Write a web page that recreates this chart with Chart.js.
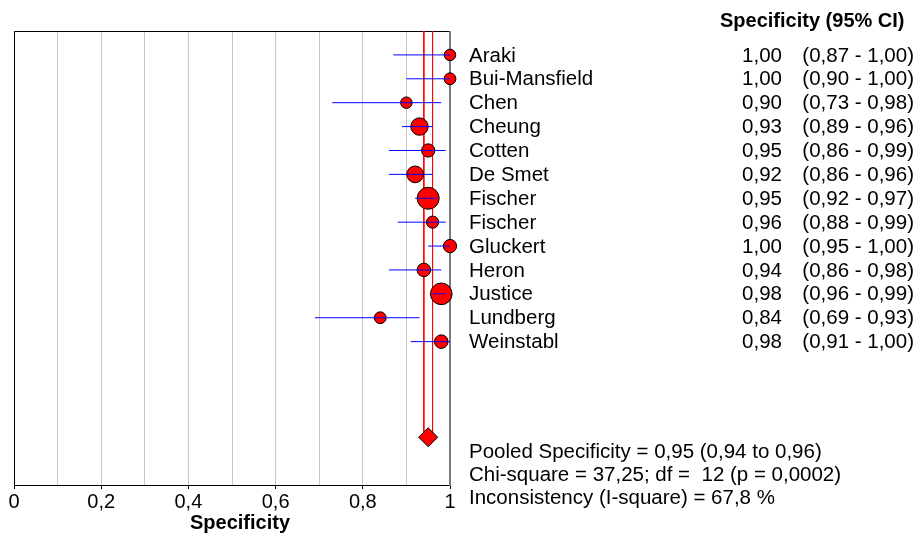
<!DOCTYPE html>
<html>
<head>
<meta charset="utf-8">
<script src="https://cdn.jsdelivr.net/npm/chart.js@4/dist/chart.umd.min.js"></script>
<style>
  html, body { margin: 0; padding: 0; background: #fff; }
  #wrap { width: 920px; height: 536px; position: relative; }
</style>
</head>
<body>
<div id="wrap"><canvas id="c" width="920" height="536"></canvas></div>
<script>
// ---- data ----
const studies = ['Araki','Bui-Mansfield','Chen','Cheung','Cotten','De Smet','Fischer','Fischer','Gluckert','Heron','Justice','Lundberg','Weinstabl'];
const specificity = [1.00, 1.00, 0.90, 0.93, 0.95, 0.92, 0.95, 0.96, 1.00, 0.94, 0.98, 0.84, 0.98];
const ciLow  = [0.87, 0.90, 0.73, 0.89, 0.86, 0.86, 0.92, 0.88, 0.95, 0.86, 0.96, 0.69, 0.91];
const ciHigh = [1.00, 1.00, 0.98, 0.96, 0.99, 0.96, 0.97, 0.99, 1.00, 0.98, 0.99, 0.93, 1.00];
const weights = [33, 35, 33, 76, 44, 70, 121, 37, 44, 46, 117, 35, 46];
const pooled = 0.95, pooledLow = 0.94, pooledHigh = 0.96;
const chiSquare = 37.25, df = 12, pValue = 0.0002, iSquare = 67.8;
const xTicks = [0, 0.2, 0.4, 0.6, 0.8, 1];
const xTitle = 'Specificity';
const header = 'Specificity (95% CI)';
const pooledRow = 17;

const fmt = (v, d) => v.toFixed(d).replace('.', ',');
const FONT = 'Arial, "Liberation Sans", sans-serif';

// ---- datasets ----
const rows = studies.map((_, i) => i + 1);
const ciSets = studies.map((_, i) => ({
  type: 'line',
  data: [{x: ciLow[i], y: rows[i]}, {x: ciHigh[i], y: rows[i]}],
  borderColor: '#0000ff', borderWidth: 1, pointRadius: 0, fill: false, order: 0, clip: false
}));
const pointSet = {
  type: 'scatter',
  data: studies.map((_, i) => ({x: specificity[i], y: rows[i]})),
  backgroundColor: '#ff0000', borderColor: '#000', borderWidth: 1,
  pointRadius: weights.map(w => Math.sqrt(w)), pointHoverRadius: weights.map(w => Math.sqrt(w)),
  order: 1, clip: false
};
const pooledLines = [pooledLow, pooledHigh].map(v => ({
  type: 'line',
  data: [{x: v, y: 0}, {x: v, y: pooledRow}],
  borderColor: '#ff0000', borderWidth: 1, pointRadius: 0, fill: false, order: 3, clip: false
}));
const diamond = {
  type: 'scatter',
  data: [{x: pooled, y: pooledRow}],
  pointStyle: 'rectRot', pointRadius: 9.5, pointHoverRadius: 9.5,
  backgroundColor: '#ff0000', borderColor: '#000', borderWidth: 1, order: 2, clip: false
};

// ---- plugins ----
const framePlugin = {
  id: 'frame',
  beforeDatasetsDraw(chart) {
    const {ctx, chartArea: a} = chart;
    ctx.save();
    ctx.strokeStyle = '#000'; ctx.lineWidth = 1;
    ctx.beginPath();
    ctx.moveTo(a.left + 0.5, a.bottom); ctx.lineTo(a.left + 0.5, a.top + 0.5);
    ctx.lineTo(a.right, a.top + 0.5);
    ctx.stroke();
    ctx.strokeStyle = '#7a7a7a'; ctx.lineWidth = 2;
    ctx.beginPath();
    ctx.moveTo(a.right, a.top); ctx.lineTo(a.right, a.bottom + 1);
    ctx.stroke();
    ctx.restore();
  }
};
const textPlugin = {
  id: 'sideText',
  afterDraw(chart) {
    const {ctx, chartArea: a} = chart;
    const y = chart.scales.y;
    ctx.save();
    ctx.fillStyle = '#000';
    ctx.textBaseline = 'middle';
    ctx.font = 'bold 20px ' + FONT;
    ctx.textAlign = 'center';
    ctx.fillText(xTitle, (a.left + a.right) / 2 + 8, 523);
    ctx.textAlign = 'left';
    ctx.fillText(header, 720, 21);
    ctx.font = '20.5px ' + FONT;
    studies.forEach((s, i) => {
      const py = y.getPixelForValue(rows[i]) + 1;
      ctx.textAlign = 'left';
      ctx.fillText(s, 469, py);
      ctx.textAlign = 'right';
      ctx.fillText(fmt(specificity[i], 2), 782, py);
      ctx.textAlign = 'right';
      ctx.fillText('(' + fmt(ciLow[i], 2) + ' - ' + fmt(ciHigh[i], 2) + ')', 914, py);
    });
    ctx.textAlign = 'left';
    const lines = [
      'Pooled Specificity = ' + fmt(pooled, 2) + ' (' + fmt(pooledLow, 2) + ' to ' + fmt(pooledHigh, 2) + ')',
      'Chi-square = ' + fmt(chiSquare, 2) + '; df =  ' + df + ' (p = ' + fmt(pValue, 4) + ')',
      'Inconsistency (I-square) = ' + fmt(iSquare, 1) + ' %'
    ];
    const base = y.getPixelForValue(pooledRow) + 15;
    lines.forEach((t, k) => ctx.fillText(t, 469, base + k * 23));
    ctx.restore();
  }
};

new Chart(document.getElementById('c'), {
  data: { datasets: [...ciSets, pointSet, diamond, ...pooledLines] },
  options: {
    responsive: false,
    animation: false,
    events: [],
    layout: { padding: { left: 14, top: 31, right: 470, bottom: 0 } },
    plugins: { legend: { display: false }, tooltip: { enabled: false } },
    scales: {
      x: {
        type: 'linear', min: 0, max: 1,
        afterFit: s => { s.height = 51; },
        ticks: {
          stepSize: 0.1, autoSkip: false, maxRotation: 0, padding: 1,
          color: '#000', font: { family: FONT, size: 20 },
          callback: v => {
            const t = Math.round(v * 10) / 10;
            return xTicks.some(x => Math.abs(x - t) < 1e-9) ? String(t).replace('.', ',') : '';
          }
        },
        grid: {
          color: '#c8c8c8', lineWidth: 1, tickLength: 4,
          tickColor: c => (Math.round(c.tick.value * 10) % 2 === 0) ? '#000' : 'rgba(0,0,0,0)'
        },
        border: { display: true, color: '#000', width: 1 },
        title: { display: false }
      },
      y: {
        type: 'linear', min: 0, max: 19, reverse: true, display: false
      }
    }
  },
  plugins: [framePlugin, textPlugin]
});
</script>
</body>
</html>
